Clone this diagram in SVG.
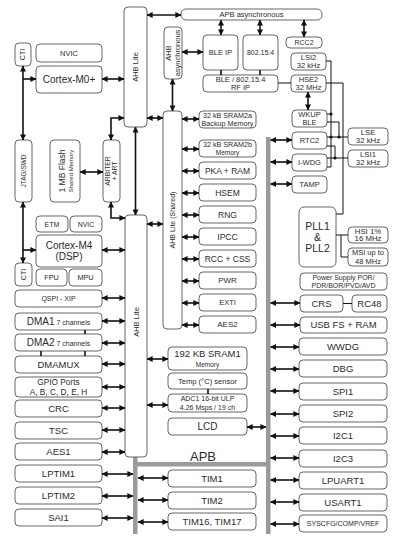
<svg xmlns="http://www.w3.org/2000/svg" width="400" height="543" viewBox="0 0 400 543">
<defs>
<marker id="a" viewBox="0 0 6 6" refX="5.6" refY="3" markerWidth="6" markerHeight="6" markerUnits="userSpaceOnUse" orient="auto-start-reverse"><path d="M0,0 L6,3 L0,6 z" fill="#111"/></marker>
<style>
.b{fill:#fff;stroke:#555;stroke-width:0.9}
.t{font-family:"Liberation Sans",Arial,sans-serif;fill:#2b2b2b;text-anchor:middle}
.f6{font-size:6px}.f65{font-size:6.5px}.f7{font-size:7px}.f75{font-size:7.5px}.f8{font-size:8px}.f85{font-size:8.5px}.f95{font-size:9.5px}.f10{font-size:10px}.f105{font-size:10.5px}
.c line,.c path{stroke:#111;stroke-width:1.6;fill:none}
.d{marker-start:url(#a);marker-end:url(#a)}
.e{marker-end:url(#a)}
.c .k{stroke:#111;stroke-width:1;fill:none}
.g{fill:#9a9a9a}
</style>
</defs>
<rect width="400" height="543" fill="#fff"/>

<g id="buses">
<rect class="g" x="266" y="137" width="4.5" height="397"/>
<rect class="g" x="133" y="457" width="4.5" height="77"/>
<rect class="g" x="133" y="462" width="137" height="4.5"/>
<text class="t" x="203" y="460.5" style="font-size:13px">APB</text>
</g>

<g id="cti1"><rect class="b" x="15" y="43" width="16" height="23" rx="4"/><text class="t f7" transform="translate(23,54.5) rotate(-90)" y="2.4">CTI</text></g>
<g id="nvic1"><rect class="b" x="36" y="44" width="66" height="18" rx="4"/><text class="t f75" x="69" y="55.6">NVIC</text></g>
<g id="m0"><rect class="b" x="36" y="66" width="66" height="27" rx="4"/><text class="t f10" x="69" y="83">Cortex-M0+</text></g>
<g id="ahb1"><rect class="b" x="124" y="7" width="23" height="120" rx="4"/><text class="t f75" transform="translate(135.5,67) rotate(-90)" y="2.6">AHB Lite</text></g>
<g id="ahbasync"><rect class="b" x="164" y="27" width="18" height="52" rx="4"/><text class="t f75" transform="translate(173,53) rotate(-90)"><tspan x="0" y="-1.8">AHB</tspan><tspan x="0" y="6.6">asynchronous</tspan></text></g>
<g id="apbasync"><rect class="b" x="181" y="9" width="141" height="11" rx="5"/><text class="t f75" x="251.5" y="17.2">APB asynchronous</text></g>
<g id="bleip"><rect class="b" x="203" y="35" width="35" height="35" rx="4"/><text class="t f75" x="220.5" y="55">BLE IP</text></g>
<g id="ieee"><rect class="b" x="243" y="35" width="35" height="35" rx="4"/><text class="t f7" x="260.5" y="55">802.15.4</text></g>
<g id="rcc2"><rect class="b" x="286" y="37" width="36" height="11" rx="4"/><text class="t f7" x="304" y="45">RCC2</text></g>
<g id="lsi2"><rect class="b" x="291" y="53" width="35" height="17" rx="4"/><text class="t f75"><tspan x="308.5" y="59.8">LSI2</tspan><tspan x="308.5" y="68.2">32 kHz</tspan></text></g>
<g id="rfip"><rect class="b" x="203" y="75" width="75" height="17" rx="4"/><text class="t f75"><tspan x="240.5" y="81.8">BLE / 802.15.4</tspan><tspan x="240.5" y="90.2">RF IP</tspan></text></g>
<g id="hse2"><rect class="b" x="291" y="75" width="35" height="17" rx="4"/><text class="t f75"><tspan x="308.5" y="81.8">HSE2</tspan><tspan x="308.5" y="90.2">32 MHz</tspan></text></g>
<g id="wkup"><rect class="b" x="292" y="110" width="35" height="17" rx="4"/><text class="t f75"><tspan x="309.5" y="116.8">WKUP</tspan><tspan x="309.5" y="125.2">BLE</tspan></text></g>

<g id="sram2a"><rect class="b" x="199" y="111" width="57" height="17" rx="4"/><text class="t" style="font-size:7.2px"><tspan x="227.5" y="117.8">32 kB SRAM2a</tspan><tspan x="227.5" y="126.2">Backup Memory</tspan></text></g>
<g id="sram2b"><rect class="b" x="199" y="140" width="57" height="17" rx="4"/><text class="t" style="font-size:7.2px"><tspan x="227.5" y="146.8">32 kB SRAM2b</tspan><tspan x="227.5" y="155.2" class="f65">Memory</tspan></text></g>
<g id="pka"><rect class="b" x="199" y="162" width="57" height="17" rx="4"/><text class="t f85" x="227.5" y="173.5">PKA + RAM</text></g>
<g id="hsem"><rect class="b" x="199" y="184" width="57" height="17" rx="4"/><text class="t f85" x="227.5" y="195.5">HSEM</text></g>
<g id="rng"><rect class="b" x="199" y="206" width="57" height="17" rx="4"/><text class="t f85" x="227.5" y="217.5">RNG</text></g>
<g id="ipcc"><rect class="b" x="199" y="228" width="57" height="17" rx="4"/><text class="t f85" x="227.5" y="239.5">IPCC</text></g>
<g id="rcc"><rect class="b" x="199" y="250" width="57" height="17" rx="4"/><text class="t f85" x="227.5" y="261.5">RCC + CSS</text></g>
<g id="pwr"><rect class="b" x="199" y="272" width="57" height="17" rx="4"/><text class="t f8" x="227.5" y="283.3">PWR</text></g>
<g id="exti"><rect class="b" x="199" y="294" width="57" height="17" rx="4"/><text class="t f75" x="227.5" y="305.3">EXTI</text></g>
<g id="aes2"><rect class="b" x="199" y="316" width="57" height="17" rx="4"/><text class="t f8" x="227.5" y="327.3">AES2</text></g>

<g id="rtc2"><rect class="b" x="292" y="132" width="35" height="17" rx="4"/><text class="t f75" x="309.5" y="143.1">RTC2</text></g>
<g id="iwdg"><rect class="b" x="292" y="154" width="35" height="17" rx="4"/><text class="t f75" x="309.5" y="165.1">I-WDG</text></g>
<g id="tamp"><rect class="b" x="292" y="176" width="35" height="17" rx="4"/><text class="t f75" x="309.5" y="187.1">TAMP</text></g>
<g id="lse"><rect class="b" x="348" y="128" width="40" height="17" rx="4"/><text class="t" style="font-size:7.8px"><tspan x="368" y="134.8">LSE</tspan><tspan x="368" y="143.4">32 kHz</tspan></text></g>
<g id="lsi1"><rect class="b" x="348" y="150" width="40" height="17" rx="4"/><text class="t" style="font-size:7.8px"><tspan x="368" y="156.8">LSI1</tspan><tspan x="368" y="165.4">32 kHz</tspan></text></g>
<g id="pll"><rect class="b" x="299" y="207" width="37" height="60" rx="5"/><text class="t f105"><tspan x="317.5" y="229.7">PLL1</tspan><tspan x="317.5" y="240.7">&amp;</tspan><tspan x="317.5" y="251.7">PLL2</tspan></text></g>
<g id="hsi"><rect class="b" x="348" y="227" width="40" height="16" rx="4"/><text class="t" style="font-size:7.8px"><tspan x="368" y="233.6">HSI 1%</tspan><tspan x="368" y="241.4">16 MHz</tspan></text></g>
<g id="msi"><rect class="b" x="348" y="248" width="40" height="18" rx="4"/><text class="t f75"><tspan x="368" y="255">MSI up to</tspan><tspan x="368" y="263.5">48 MHz</tspan></text></g>
<g id="power"><rect class="b" x="300" y="273" width="87" height="17" rx="4"/><text class="t f7"><tspan x="343.5" y="279.8">Power Supply POR/</tspan><tspan x="343.5" y="288">PDR/BOR/PVD/AVD</tspan></text></g>
<g id="crs"><rect class="b" x="300" y="295" width="43" height="17" rx="4"/><text class="t f95" x="321.5" y="306.8">CRS</text></g>
<g id="rc48"><rect class="b" x="352" y="295" width="35" height="17" rx="4"/><text class="t f95" x="369.5" y="306.8">RC48</text></g>
<g id="usb"><rect class="b" x="300" y="317" width="87" height="16" rx="4"/><text class="t f95" x="343.5" y="328.3">USB FS + RAM</text></g>
<g id="wwdg"><rect class="b" x="299" y="338" width="88" height="17" rx="4"/><text class="t f95" x="343" y="349.8">WWDG</text></g>
<g id="dbg"><rect class="b" x="299" y="360" width="88" height="17" rx="4"/><text class="t f95" x="343" y="371.8">DBG</text></g>
<g id="spi1"><rect class="b" x="299" y="383" width="88" height="17" rx="4"/><text class="t f95" x="343" y="394.8">SPI1</text></g>
<g id="spi2"><rect class="b" x="299" y="405" width="88" height="17" rx="4"/><text class="t f95" x="343" y="416.8">SPI2</text></g>
<g id="i2c1"><rect class="b" x="299" y="427" width="88" height="17" rx="4"/><text class="t f95" x="343" y="438.8">I2C1</text></g>
<g id="i2c3"><rect class="b" x="299" y="450" width="88" height="17" rx="4"/><text class="t f95" x="343" y="461.8">I2C3</text></g>
<g id="lpuart1"><rect class="b" x="299" y="472" width="88" height="17" rx="4"/><text class="t f95" x="343" y="483.8">LPUART1</text></g>
<g id="usart1"><rect class="b" x="299" y="494" width="88" height="17" rx="4"/><text class="t f95" x="343" y="505.8">USART1</text></g>
<g id="syscfg"><rect class="b" x="299" y="515" width="88" height="17" rx="4"/><text class="t f7" x="343" y="526">SYSCFG/COMP/VREF</text></g>

<g id="jtag"><rect class="b" x="15" y="140" width="17" height="62" rx="4"/><text class="t f65" transform="translate(23.5,171) rotate(-90)" y="2.3">JTAG/SWD</text></g>
<g id="flash"><rect class="b" x="50" y="140" width="30" height="62" rx="4"/><text class="t" transform="translate(65,171) rotate(-90)"><tspan x="0" y="0" class="f85">1 MB Flash</tspan><tspan x="0" y="8.3" class="f6">Shared Memory</tspan></text></g>
<g id="arbiter"><rect class="b" x="103" y="140" width="17" height="62" rx="4"/><text class="t" style="font-size:6.8px" transform="translate(111.5,171) rotate(-90)"><tspan x="0" y="-1.1">ARBITER</tspan><tspan x="0" y="5.6">+ ART</tspan></text></g>
<g id="etm"><rect class="b" x="36" y="216" width="32" height="16" rx="4"/><text class="t f7" x="52" y="226.5">ETM</text></g>
<g id="nvic2"><rect class="b" x="70" y="216" width="32" height="16" rx="4"/><text class="t f7" x="86" y="226.5">NVIC</text></g>
<g id="m4"><rect class="b" x="36" y="235" width="66" height="32" rx="4"/><text class="t f10"><tspan x="69" y="248.5">Cortex-M4</tspan><tspan x="69" y="260">(DSP)</tspan></text></g>
<g id="cti2"><rect class="b" x="15" y="263" width="17" height="23" rx="4"/><text class="t f7" transform="translate(23.5,274.5) rotate(-90)" y="2.4">CTI</text></g>
<g id="fpu"><rect class="b" x="36" y="269" width="31" height="17" rx="4"/><text class="t" style="font-size:7.3px" x="51.5" y="280">FPU</text></g>
<g id="mpu"><rect class="b" x="69" y="269" width="33" height="17" rx="4"/><text class="t" style="font-size:7.3px" x="85.5" y="280">MPU</text></g>
<g id="ahb2"><rect class="b" x="125" y="215" width="22" height="242" rx="4"/><text class="t f75" transform="translate(136,322) rotate(-90)" y="2.6">AHB Lite</text></g>
<g id="ahbshared"><rect class="b" x="163" y="111" width="19" height="218" rx="4"/><text class="t f7" transform="translate(172.5,220) rotate(-90)" y="2.4">AHB Lite (Shared)</text></g>

<g id="qspi"><rect class="b" x="15" y="290" width="87" height="17" rx="4"/><text class="t f7" x="58.5" y="300.9">QSPI - XIP</text></g>
<g id="dma1"><rect class="b" x="15" y="313" width="87" height="17" rx="4"/><text class="t f10" x="58.5" y="325">DMA1<tspan class="f7"> 7 channels</tspan></text></g>
<g id="dma2"><rect class="b" x="15" y="334" width="87" height="17" rx="4"/><text class="t f10" x="58.5" y="346">DMA2<tspan class="f7"> 7 channels</tspan></text></g>
<g id="dmamux"><rect class="b" x="15" y="356" width="87" height="17" rx="4"/><text class="t f95" x="58.5" y="367.8">DMAMUX</text></g>
<g id="gpio"><rect class="b" x="15" y="377" width="87" height="20" rx="4"/><text class="t" style="font-size:8.3px"><tspan x="58.5" y="385.2">GPIO Ports</tspan><tspan x="58.5" y="394.6">A, B, C, D, E, H</tspan></text></g>
<g id="crc"><rect class="b" x="15" y="400" width="87" height="17" rx="4"/><text class="t f95" x="58.5" y="411.8">CRC</text></g>
<g id="tsc"><rect class="b" x="15" y="422" width="87" height="17" rx="4"/><text class="t f95" x="58.5" y="433.8">TSC</text></g>
<g id="aes1"><rect class="b" x="15" y="443" width="87" height="17" rx="4"/><text class="t f95" x="58.5" y="454.8">AES1</text></g>
<g id="lptim1"><rect class="b" x="15" y="465" width="87" height="17" rx="4"/><text class="t f95" x="58.5" y="476.8">LPTIM1</text></g>
<g id="lptim2"><rect class="b" x="15" y="487" width="87" height="17" rx="4"/><text class="t f95" x="58.5" y="498.8">LPTIM2</text></g>
<g id="sai1"><rect class="b" x="15" y="509" width="87" height="17" rx="4"/><text class="t f95" x="58.5" y="520.8">SAI1</text></g>

<g id="sram1"><rect class="b" x="168" y="347" width="79" height="23" rx="4"/><text class="t"><tspan x="207.5" y="356.8" class="f95">192 KB SRAM1</tspan><tspan x="207.5" y="366.7" class="f65">Memory</tspan></text></g>
<g id="temp"><rect class="b" x="168" y="373" width="79" height="16" rx="4"/><text class="t" style="font-size:7.6px" x="207.5" y="383.7">Temp (°C) sensor</text></g>
<g id="adc1"><rect class="b" x="168" y="394" width="79" height="18" rx="4"/><text class="t f7"><tspan x="207.5" y="401.2">ADC1 16-bit ULP</tspan><tspan x="207.5" y="409.6">4.26 Msps / 19 ch</tspan></text></g>
<g id="lcd"><rect class="b" x="168" y="418" width="79" height="17" rx="4"/><text class="t f10" x="207.5" y="430">LCD</text></g>
<g id="tim1"><rect class="b" x="168" y="470" width="88" height="17" rx="4"/><text class="t f95" x="212" y="481.8">TIM1</text></g>
<g id="tim2"><rect class="b" x="168" y="492" width="88" height="17" rx="4"/><text class="t f95" x="212" y="503.8">TIM2</text></g>
<g id="tim16"><rect class="b" x="168" y="513" width="88" height="17" rx="4"/><text class="t f95" x="212" y="524.8">TIM16, TIM17</text></g>

<g id="connectors" class="c">
<!-- top -->
<line class="d" x1="147" y1="15" x2="181" y2="15"/>
<line class="d" x1="102" y1="79" x2="124" y2="79"/>
<line class="d" x1="182" y1="52" x2="203" y2="52"/>
<line class="d" x1="221" y1="20" x2="221" y2="35"/>
<line class="d" x1="260" y1="20" x2="260" y2="35"/>
<line class="d" x1="304" y1="20" x2="304" y2="37"/>
<line class="d" x1="172.5" y1="79" x2="172.5" y2="111"/>
<line class="d" x1="147" y1="118" x2="163" y2="118"/>
<line class="d" x1="308" y1="92" x2="308" y2="110"/>
<line x1="221" y1="70" x2="221" y2="75"/>
<line x1="260" y1="70" x2="260" y2="75"/>
<line class="k" x1="278" y1="83" x2="291" y2="83"/>
<!-- JTAG / CTI -->
<line class="d" x1="23" y1="66" x2="23" y2="140"/>
<line class="e" x1="23" y1="79" x2="36" y2="79"/>
<line class="d" x1="23" y1="202" x2="23" y2="263"/>
<line class="e" x1="23" y1="250" x2="36" y2="250"/>
<!-- arbiter / flash -->
<line class="d" x1="80" y1="172" x2="103" y2="172"/>
<path class="d" d="M111,140 V118 H124"/>
<path class="d" d="M111,202 V218 H125"/>
<line class="d" x1="135.5" y1="127" x2="135.5" y2="215"/>
<line class="d" x1="147" y1="224" x2="163" y2="224"/>
<line class="d" x1="102" y1="250" x2="125" y2="250"/>
<!-- shared peripherals -->
<line class="d" x1="182" y1="119" x2="199" y2="119"/>
<line class="d" x1="182" y1="149" x2="199" y2="149"/>
<line class="d" x1="182" y1="171" x2="199" y2="171"/>
<line class="d" x1="182" y1="193" x2="199" y2="193"/>
<line class="d" x1="182" y1="215" x2="199" y2="215"/>
<line class="d" x1="182" y1="237" x2="199" y2="237"/>
<line class="d" x1="182" y1="259" x2="199" y2="259"/>
<line class="d" x1="182" y1="281" x2="199" y2="281"/>
<line class="d" x1="182" y1="303" x2="199" y2="303"/>
<line class="d" x1="182" y1="325" x2="199" y2="325"/>
<!-- left AHB peripherals -->
<line class="d" x1="102" y1="298" x2="125" y2="298"/>
<line class="d" x1="102" y1="321" x2="125" y2="321"/>
<line class="d" x1="102" y1="343" x2="125" y2="343"/>
<line class="d" x1="102" y1="364" x2="125" y2="364"/>
<line class="d" x1="102" y1="387" x2="125" y2="387"/>
<line class="d" x1="102" y1="408" x2="125" y2="408"/>
<line class="d" x1="102" y1="430" x2="125" y2="430"/>
<line class="d" x1="102" y1="452" x2="125" y2="452"/>
<line x1="85" y1="330" x2="85" y2="334"/>
<line x1="41" y1="351" x2="41" y2="356"/>
<line x1="85" y1="351" x2="85" y2="356"/>
<!-- left APB -->
<line class="d" x1="102" y1="474" x2="133" y2="474"/>
<line class="d" x1="102" y1="496" x2="133" y2="496"/>
<line class="d" x1="102" y1="518" x2="133" y2="518"/>
<line class="d" x1="138" y1="478" x2="168" y2="478"/>
<line class="d" x1="138" y1="500" x2="168" y2="500"/>
<line class="d" x1="138" y1="522" x2="168" y2="522"/>
<!-- middle -->
<line class="d" x1="147" y1="359" x2="168" y2="359"/>
<line class="d" x1="147" y1="405" x2="168" y2="405"/>
<line x1="208" y1="389" x2="208" y2="394"/>
<line class="d" x1="247" y1="427" x2="266" y2="427"/>
<!-- right APB -->
<line class="d" x1="270.5" y1="140" x2="292" y2="140"/>
<line class="d" x1="270.5" y1="162" x2="292" y2="162"/>
<line class="d" x1="270.5" y1="184" x2="292" y2="184"/>
<line class="d" x1="270.5" y1="303" x2="300" y2="303"/>
<line class="d" x1="270.5" y1="325" x2="300" y2="325"/>
<line class="d" x1="270.5" y1="347" x2="299" y2="347"/>
<line class="d" x1="270.5" y1="369" x2="299" y2="369"/>
<line class="d" x1="270.5" y1="391" x2="299" y2="391"/>
<line class="d" x1="270.5" y1="414" x2="299" y2="414"/>
<line class="d" x1="270.5" y1="436" x2="299" y2="436"/>
<line class="d" x1="270.5" y1="458" x2="299" y2="458"/>
<line class="d" x1="270.5" y1="480" x2="299" y2="480"/>
<line class="d" x1="270.5" y1="502" x2="299" y2="502"/>
<line class="d" x1="270.5" y1="524" x2="299" y2="524"/>
<line class="k" x1="343" y1="303.5" x2="352" y2="303.5"/>
<!-- clocks -->
<path class="k" d="M326,61 H331 V167 H327"/>
<path class="k" d="M326,83 H343 V214 H336"/>
<path class="k" d="M327,114 H331"/>
<path class="k" d="M327,122 H339 V137"/>
<path class="k" d="M348,137 H327"/>
<path class="k" d="M327,146 H335 V158"/>
<path class="k" d="M348,158 H327"/>
<path class="k" d="M336,235 H348"/>
<path class="k" d="M341,235 V257 H348"/>
<circle cx="331" cy="114" r="1.6" fill="#111"/>
<circle cx="331" cy="137" r="1.6" fill="#111"/>
<circle cx="339" cy="137" r="1.6" fill="#111"/>
<circle cx="335" cy="158" r="1.6" fill="#111"/>
</g>
</svg>
